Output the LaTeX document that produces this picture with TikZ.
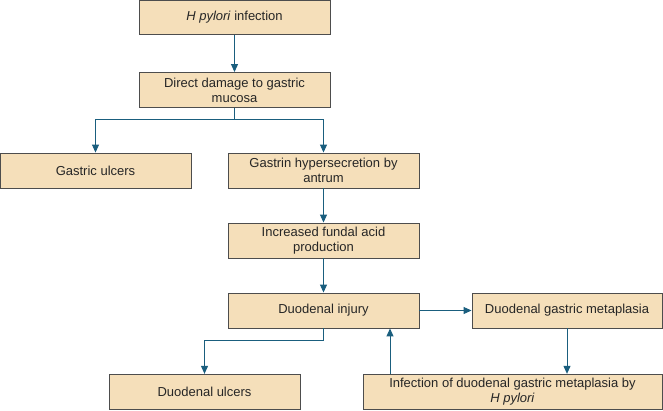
\documentclass[tikz,border=0pt]{standalone}
\usepackage{fontspec}
\setmainfont{Liberation Sans}
\usetikzlibrary{arrows.meta}
\definecolor{boxfill}{HTML}{F5DFBA}
\definecolor{boxline}{HTML}{4D4D4D}
\definecolor{arrcol}{HTML}{1A5E7E}
\begin{document}
\begin{tikzpicture}[x=1pt,y=1pt,
  box/.style={draw=boxline,fill=boxfill,line width=0.9pt,inner sep=0pt,
    minimum height=35pt,minimum width=191pt,align=center,
    font=\fontsize{13}{15}\selectfont,text=black!85},
  arr/.style={draw=arrcol,line width=1pt,-{Triangle[length=8pt,width=7pt]}}]
\useasboundingbox (0,0) rectangle (663,-410);
\node[box,minimum height=34pt] (A) at (234.5,-17.5) {\textit{H pylori} infection};
\node[box] (B) at (234.5,-90) {Direct damage to gastric\\mucosa};
\node[box] (C) at (95.5,-170.5) {Gastric ulcers};
\node[box] (D) at (323.5,-170.5) {Gastrin hypersecretion by\\antrum};
\node[box] (E) at (323.5,-240.5) {Increased fundal acid\\production};
\node[box] (F) at (323.5,-310.5) {Duodenal injury};
\node[box,minimum width=190pt] (G) at (567,-310.5) {Duodenal gastric metaplasia};
\node[box,minimum width=299pt] (H) at (512.5,-391.8) {Infection of duodenal gastric metaplasia by\\\textit{H pylori}};
\node[box] (I) at (204.5,-391.8) {Duodenal ulcers};
\draw[arr] (A.south) -- (B.north);
\draw[arr] (B.south) -- ++(0,-12) -| (C.north);
\draw[arr] (B.south) -- ++(0,-12) -| (D.north);
\draw[arr] (D.south) -- (E.north);
\draw[arr] (E.south) -- (F.north);
\draw[arr] (F.east) -- (G.west);
\draw[arr] (G.south) -- (G.south |- H.north);
\draw[arr] ([xshift=-122.5pt]H.north) -- ([xshift=-122.5pt]H.north |- F.south);
\draw[arr] (F.south) -- ++(0,-12) -| (I.north);
\end{tikzpicture}
\end{document}
